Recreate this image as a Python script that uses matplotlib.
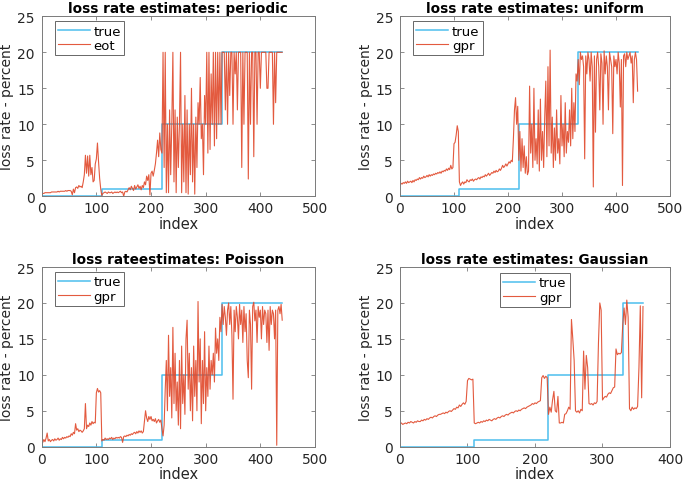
import numpy as np
import matplotlib
matplotlib.use("Agg")
import matplotlib.pyplot as plt

# ---------------- data ----------------
true_levels = [0, 1, 10, 20]
true_breaks = [0, 110, 220, 330]
true_end_a = 440          # panels 1-3
true_end_b = 360          # panel 4

step = 2  # sample spacing of the estimated series (index units)

eot_periodic = [
    0.3,0.4,0.4,0.5,0.5,0.5,0.5,0.5,0.5,0.6,
    0.6,0.6,0.6,0.6,0.6,0.7,0.6,0.7,0.7,0.7,
    0.7,0.7,0.8,0.7,0.8,0.8,0.8,0.7,0.2,1.0,
    0.5,1.2,1.3,1.1,1.5,1.3,1.4,1.2,2.0,3.0,
    5.7,3.2,5.6,2.8,5.7,3.0,4.0,2.0,2.2,4.5,
    5.2,7.4,4.8,2.5,1.0,0.1,0.4,0.5,0.6,0.5,
    0.4,0.6,0.5,0.5,0.6,0.4,0.5,0.6,0.5,0.6,
    0.5,0.6,0.7,0.5,0.6,0.0,0.6,0.7,0.6,0.9,
    1.2,0.9,1.4,1.1,0.8,1.5,1.0,1.3,1.6,1.1,
    1.4,0.9,1.5,1.2,2.0,1.6,2.8,2.2,3.0,0.2,
    3.2,3.5,2.8,3.6,4.5,6.0,7.8,5.5,8.8,6.5,
    6.0,20,4.0,20,0.5,10,0.5,12,3.0,10,
    20,2.0,12,0.5,11,4.0,10,20,0.5,10,
    2.0,14,0.5,12,0.3,10,3.0,15,2.0,10,
    0.3,11,4.0,13,10,16.5,8.0,10,3.0,14,
    10,20,6.0,20,6.5,17,10,20,7.0,20,
    8.0,20,10,20,10,20,20,20,12,20,
    10,20,14,20,20,10,20,17,20,12,
    20,20,20,4.0,20,10,20,20,20,2.4,
    20,10,20,20,5.5,20,20,10,20,20,
    15,20,20,20,20,20,15,15,20,20,
    20,20,10,20,13,20,20,20,20,20,
    20,
]

gpr_uniform = [
    1.5,1.8,1.7,1.9,1.8,2.0,1.8,2.1,1.9,2.0,
    2.1,1.9,2.2,2.0,2.3,2.2,2.4,2.3,2.6,2.4,
    2.6,2.5,2.8,2.6,2.7,2.9,2.7,3.0,2.8,3.0,
    2.9,3.1,3.0,3.2,3.1,3.3,3.2,3.4,3.2,3.5,
    3.4,3.6,3.5,3.8,3.6,3.9,3.7,4.3,3.8,4.0,
    7.3,7.5,8.5,9.8,9.0,2.0,1.5,1.8,2.0,1.7,
    2.0,1.9,2.3,2.1,2.0,2.3,2.2,2.4,2.1,2.3,
    2.4,2.3,2.5,2.6,2.4,2.7,2.6,2.8,2.7,3.0,
    2.8,3.0,3.2,2.9,3.1,3.3,3.2,3.5,3.3,3.6,
    3.4,3.5,3.8,3.6,3.9,4.3,4.0,4.2,4.5,4.2,
    4.5,4.8,4.6,5.0,4.8,8.0,12.0,13.7,10.0,12.5,
    5.0,9.0,3.5,8.0,4.0,7.0,3.2,5.5,3.0,3.5,
    15.3,6.0,10.0,4.0,15.0,5.0,8.0,4.5,12.0,3.5,
    13.5,5.0,9.0,4.0,11.0,16.0,5.5,18.0,7.0,20.3,
    6.0,11.0,4.0,9.5,5.0,12.0,6.0,8.0,4.5,14.0,
    7.0,10.0,5.5,13.0,6.0,9.0,7.5,12.0,7.0,15.0,
    8.0,13.0,9.0,17.0,16.0,19.0,15.5,20.0,19.0,19.5,
    18.0,5.2,19.5,17.0,20.0,19.0,16.0,20.0,18.0,1.3,
    19.5,8.9,19.0,20.0,18.0,12.0,19.8,18.5,10.0,20.2,
    17.0,19.5,18.0,12.0,20.0,19.0,18.0,8.7,19.5,18.0,
    19.0,17.0,20.0,18.5,12.4,19.0,1.5,19.5,19.8,18.0,
    20.0,19.0,19.5,20.0,18.5,19.5,13.0,19.0,20.0,19.0,
    14.6,
]

gpr_poisson = [
    0.8,0.6,1.0,0.7,1.2,1.9,0.8,1.0,0.7,0.9,
    1.0,0.8,1.1,0.9,1.0,1.2,0.9,1.1,1.0,1.3,
    1.1,1.3,1.2,1.4,1.3,1.5,1.4,1.8,1.6,2.0,
    1.8,3.2,2.3,2.5,2.1,2.3,2.2,2.0,2.2,2.5,
    6.0,2.5,3.0,2.8,3.3,3.0,3.5,3.2,3.4,3.3,
    7.5,8.1,7.6,7.8,7.5,0.8,1.0,0.9,1.2,1.0,
    1.1,1.0,1.2,1.1,1.3,1.0,1.2,1.1,1.3,1.2,
    1.3,1.2,1.4,1.3,0.6,1.4,1.5,1.4,1.6,1.5,
    1.7,1.6,1.8,1.7,1.9,2.0,1.8,2.1,1.9,2.2,
    2.0,2.2,1.9,2.1,3.5,5.0,4.0,3.5,4.2,3.8,
    4.2,3.6,3.8,3.5,3.9,3.3,3.6,3.8,3.4,3.7,
    2.5,1.5,3.0,8.0,12.0,5.0,15.5,7.0,11.0,4.0,
    16.6,6.0,13.0,5.0,9.0,3.0,12.0,2.5,14.0,6.0,
    10.0,4.5,15.0,17.6,8.0,13.0,5.0,11.0,3.6,14.0,
    7.0,12.0,5.0,20.2,9.0,15.0,3.2,12.0,6.0,16.0,
    5.0,11.0,7.0,14.0,8.0,12.0,10.0,13.0,9.0,16.5,
    13.0,15.0,12.0,18.0,16.0,19.8,17.0,19.5,18.0,15.5,
    19.0,20.0,17.0,19.5,15.5,6.6,19.0,16.0,19.5,18.0,
    15.0,19.8,17.0,19.0,14.5,19.5,16.0,18.5,12.0,9.6,
    19.0,17.0,8.0,19.5,20.1,17.5,19.0,14.5,19.5,18.0,
    19.0,15.0,19.5,17.0,19.0,18.5,14.5,19.0,13.4,19.5,
    17.0,19.0,18.5,15.0,19.0,0.2,19.0,19.5,18.5,19.8,
    17.6,
]

gpr_gaussian = [
    3.2,3.3,3.1,3.2,3.3,3.2,3.4,3.3,3.5,3.4,
    3.3,3.5,3.4,3.6,3.5,3.5,3.7,3.6,3.8,3.7,
    3.9,3.8,4.0,4.1,4.0,4.2,4.3,4.2,4.4,4.5,
    4.5,4.6,4.7,4.6,4.8,4.7,4.9,5.0,4.9,5.1,
    5.3,5.2,5.5,5.4,5.8,5.6,5.9,6.1,5.9,6.3,
    9.2,9.5,9.4,9.3,9.4,3.3,3.2,3.3,3.4,3.3,
    3.5,3.4,3.6,3.5,3.7,3.6,3.8,3.7,3.6,3.8,
    3.9,3.8,4.0,4.1,4.0,4.2,4.3,4.2,4.4,4.5,
    4.4,4.6,4.7,4.8,4.7,4.9,5.0,4.9,5.1,5.0,
    5.2,5.3,5.4,5.3,5.5,5.6,5.7,5.8,6.0,5.9,
    6.1,6.0,6.2,6.3,6.4,9.6,9.9,9.5,9.8,9.6,
    4.5,5.5,4.8,6.5,7.7,5.0,4.8,7.0,3.3,3.3,
    3.4,3.3,4.5,4.6,5.0,5.5,5.2,17.7,15.0,12.0,
    5.0,4.8,5.0,4.7,5.2,5.0,13.3,8.0,12.7,11.0,
    6.0,5.9,6.0,5.8,6.1,6.0,6.3,14.4,20.0,19.0,
    6.5,6.8,7.0,6.9,7.3,7.5,7.4,7.8,8.2,8.3,
    13.6,12.8,13.0,12.9,13.1,17.0,19.3,17.0,20.4,18.0,
    5.3,5.0,5.5,5.2,5.4,5.3,5.6,11.0,19.6,6.8,
    19.5,
]

titles = ["loss rate estimates: periodic", "loss rate estimates: uniform",
          "loss rateestimates: Poisson", "loss rate estimates: Gaussian"]
est_labels = ["eot", "gpr", "gpr", "gpr"]
series = [eot_periodic, gpr_uniform, gpr_poisson, gpr_gaussian]
ends = [true_end_a, true_end_a, true_end_a, true_end_b]
xmaxes = [500, 500, 500, 400]
xlabel = "index"
ylabel = "loss rate - percent"

# ---------------- style ----------------
c_true = "#4DBEEE"
c_est = "#E0482A"
ax_col = "#7a7a7a"
txt_col = "#262626"

plt.rcParams["font.family"] = ["DejaVu Sans"]

fig = plt.figure(figsize=(6.85, 4.85), dpi=100)
W, H = 685.0, 485.0
boxes = [(41.7, 17.3, 315, 197.3), (400, 17.3, 670, 197.3),
         (41.7, 268, 315, 447.7), (400, 268, 670, 447.7)]

for i in range(4):
    l, t, r, b = boxes[i]
    aw, ah = r - l, b - t
    ax = fig.add_axes([l / W, 1 - b / H, aw / W, ah / H])
    end = ends[i]
    tx = true_breaks + [end]
    ty = true_levels + [true_levels[-1]]
    ax.step(tx, ty, where="post", color=c_true, lw=1.1, label="true")
    y = np.array(series[i])
    x = np.arange(len(y)) * step
    ax.plot(x, y, color=c_est, lw=0.8, alpha=0.9, label=est_labels[i])
    ax.set_xlim(0, xmaxes[i])
    ax.set_ylim(0, 25)
    ax.set_xticks(np.arange(0, xmaxes[i] + 1, 100))
    ax.set_yticks(np.arange(0, 26, 5))
    ax.tick_params(direction="in", top=True, right=True, length=3,
                   width=0.6, color=ax_col, labelsize=10, labelcolor=txt_col)
    ax.tick_params(axis="x", pad=3.5)
    ax.tick_params(axis="y", pad=5)
    for s in ax.spines.values():
        s.set_color(ax_col)
        s.set_linewidth(0.7)
    ax.set_title(titles[i], fontsize=9.8, fontweight="bold", color="black", pad=3)
    ax.set_xlabel(xlabel, fontsize=10.5, color=txt_col, labelpad=0.5)
    ax.set_ylabel(ylabel, fontsize=10, color=txt_col, labelpad=2)
    if i < 3:
        loc, anchor = "upper left", (13 / aw, 1 - 5 / ah)
    else:
        loc, anchor = "upper center", (0.5, 1 - 6 / ah)
    leg = ax.legend(loc=loc, bbox_to_anchor=anchor, borderaxespad=0,
                    fontsize=9.5, frameon=True, fancybox=False,
                    handlelength=2.4, borderpad=0.25, labelspacing=0.1,
                    handletextpad=0.3)
    leg.get_frame().set_edgecolor("#404040")
    leg.get_frame().set_linewidth(0.7)

fig.savefig("out.png", dpi=100)
